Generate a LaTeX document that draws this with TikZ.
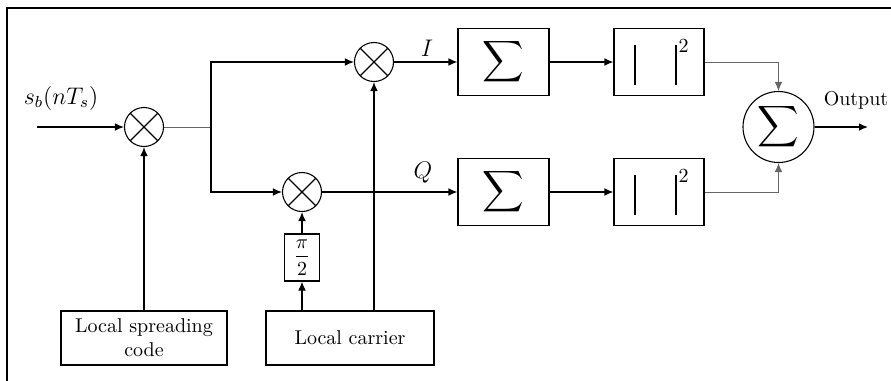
\documentclass[tikz,border=0pt]{standalone}
\usepackage{amsmath}
\usetikzlibrary{arrows.meta}
\begin{document}
\begin{tikzpicture}[x=0.5pt,y=-0.5pt,line width=0.55pt,
  arr/.style={-{Latex[length=4.5pt,width=3.8pt]}},
  thin gray/.style={draw=black!60,line width=0.45pt},
  mixer/.style={circle,draw,minimum size=19.5pt,inner sep=0pt,
    path picture={\draw (path picture bounding box.south west) -- (path picture bounding box.north east)
                        (path picture bounding box.north west) -- (path picture bounding box.south east);}},
  box/.style={rectangle,draw,inner sep=0pt},
  absbox/.style={box,minimum width=45pt,minimum height=33.5pt}]
\useasboundingbox (0,0) rectangle (891,381);
% frame (top and left edges)
\draw[line width=1.3pt] (891,8) -- (7,8) -- (7,381);
% nodes
\node[mixer] (m1) at (144,127) {};
\node[mixer] (mI) at (374,62) {};
\node[mixer] (mQ) at (302,192) {};
\node[box,minimum width=17.5pt,minimum height=23.5pt] (ph) at (302,257.5) {$\dfrac{\pi}{2}$};
\node[box,minimum width=84pt,minimum height=27pt] (lc) at (350,338) {Local carrier};
\node[box,minimum width=83pt,minimum height=27pt,align=center] (sc) at (144,338) {Local spreading\\code};
\node[box,minimum width=45.5pt,minimum height=33.5pt] (sI) at (503.5,62) {\Large$\displaystyle\sum$};
\node[box,minimum width=45.5pt,minimum height=33.5pt] (sQ) at (503.5,192) {\Large$\displaystyle\sum$};
\node[absbox] (aI) at (659,62) {\hspace{2pt}\rule[-10pt]{1pt}{20pt}\hspace{19.5pt}\rule[-10pt]{1pt}{20pt}\hspace{1pt}\raisebox{6pt}{2}};
\node[absbox] (aQ) at (659,192) {\hspace{2pt}\rule[-10pt]{1pt}{20pt}\hspace{19.5pt}\rule[-10pt]{1pt}{20pt}\hspace{1pt}\raisebox{6pt}{2}};
\node[circle,draw,minimum size=35.5pt,inner sep=0pt] (S) at (778.5,127) {\Large$\displaystyle\sum$};
\coordinate (in) at (37,127);
\coordinate (br) at (211,127);
\coordinate (out) at (868,127);
% labels
\node (sl) at (61,98) {\large$s_b(nT_s)$};
\node (Il) at (427,48) {\large$I$};
\node (Ql) at (423,173) {\large$Q$};
\node (ol) at (856,100) {Output};
% connectors
\draw[arr] (in) -- (m1);
\draw[thin gray] (m1) -- (br);
\draw[arr] (br) |- (mI);
\draw[arr] (br) |- (mQ);
\draw[arr] (sc) -- (m1);
\draw[arr] (lc.north -| ph) -- (ph);
\draw[arr] (ph) -- (mQ);
\draw[arr] (lc.north -| mI) -- (mI);
\draw[arr] (mI) -- (sI);
\draw[arr] (mQ) -- (sQ);
\draw[arr] (sI) -- (aI);
\draw[arr] (sQ) -- (aQ);
\draw[thin gray,arr] (aI) -| (S);
\draw[thin gray,arr] (aQ) -| (S);
\draw[arr] (S) -- (out);
\end{tikzpicture}
\end{document}
